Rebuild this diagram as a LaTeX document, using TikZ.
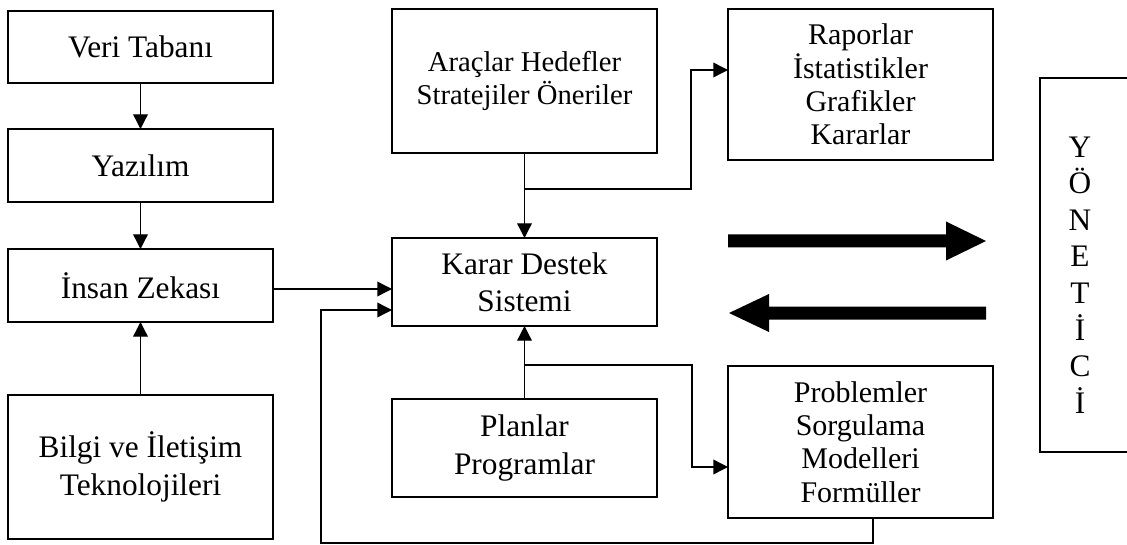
\documentclass[tikz,border=0pt]{standalone}
\usepackage{fontspec}
\setmainfont{Liberation Serif}
\usetikzlibrary{arrows.meta}
\begin{document}
\begin{tikzpicture}[x=0.75pt,y=-0.75pt,
  font=\fontsize{23.5}{25}\selectfont,
  box/.style={draw,line width=1pt,inner sep=0pt,outer sep=0pt,minimum width=198.75pt,align=center},
  wire/.style={line width=1pt},
  arr/.style={wire,-{Triangle[length=11pt,width=11pt]}},
  wide/.style={font=\fontsize{23.5}{28}\selectfont},
  small/.style={font=\fontsize{21.5}{25}\selectfont},
  mid/.style={font=\fontsize{22.5}{25}\selectfont},
  big/.style={fill=black,draw=none}]
\useasboundingbox (0,0) rectangle (1127,545);
% left column
\node[box,minimum height=54pt] (VT) at (140.5,47) {Veri Tabanı};
\node[box,minimum height=54.75pt] (YZ) at (140.5,165.5) {Yazılım};
\node[box,minimum height=54.75pt] (IZ) at (140.5,285.5) {İnsan Zekası};
\node[box,wide,minimum height=108pt] (BI) at (140.5,467) {Bilgi ve İletişim\\Teknolojileri};
% centre column
\node[box,small,minimum height=108pt] (AR) at (524.5,81) {Araçlar Hedefler\\Stratejiler Öneriler};
\node[box,wide,minimum height=66pt] (KD) at (524.5,282) {Karar Destek\\Sistemi};
\node[box,wide,minimum height=73.5pt] (PL) at (524.5,448) {Planlar\\Programlar};
% right column
\node[box,mid,minimum height=113.25pt] (RA) at (860.5,84.5) {Raporlar\\İstatistikler\\Grafikler\\Kararlar};
\node[box,mid,minimum height=114pt] (PR) at (860.5,442) {Problemler\\Sorgulama\\Modelleri\\Formüller};
% manager box (open on the right)
\node[align=center,inner sep=0pt,font=\fontsize{23.5}{27.4}\selectfont] (YN) at (1080,275) {Y\\Ö\\N\\E\\T\\İ\\C\\İ};
\draw[wire] (1127,78) -- (1040,78) -- (1040,452) -- (1127,452);
% connectors
\draw[arr] (VT) -- (YZ);
\draw[arr] (YZ) -- (IZ);
\draw[arr] (BI) -- (IZ);
\draw[arr] (IZ.east) ++(0,3.5) coordinate (t1) -- (t1 -| KD.west);
\draw[arr] (AR) -- (KD);
\draw[arr] (PL) -- (KD);
\coordinate (j1) at (524.5,189);
\coordinate (k1) at (691,70);
\draw[arr] (j1) -| (k1) -- (k1 -| RA.west);
\coordinate (j2) at (524.5,365);
\coordinate (k2) at (692,467);
\draw[arr] (j2) -| (k2) -- (k2 -| PR.west);
\coordinate (f1) at (873,543);
\coordinate (f2) at (321,310);
\draw[arr] (f1 |- PR.south) -- (f1) -| (f2) -- (f2 -| KD.west);
% big block arrows
\fill[big] (728,234.5) -- (946,234.5) -- (946,221.5) -- (986,241) -- (946,260.5) -- (946,247.5) -- (728,247.5) -- cycle;
\fill[big] (986,306.5) -- (769,306.5) -- (769,294) -- (729,313) -- (769,332) -- (769,319.5) -- (986,319.5) -- cycle;
\end{tikzpicture}
\end{document}
